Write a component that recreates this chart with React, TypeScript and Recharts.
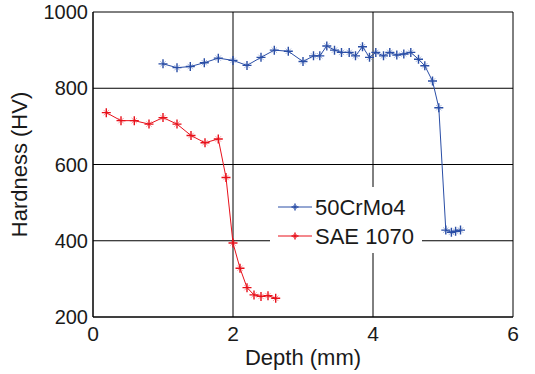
import React from 'react';
import {
    LineChart,
    Line,
    XAxis,
    YAxis,
    CartesianGrid,
    Legend,
} from 'recharts';

// 50CrMo4 profile
const crmoDepth = [1.0, 1.2, 1.39, 1.59, 1.79, 2.0, 2.2, 2.4, 2.59, 2.79, 3.0, 3.15, 3.24, 3.34, 3.45, 3.55, 3.66, 3.75, 3.85, 3.95, 4.04, 4.15, 4.24, 4.34, 4.44, 4.54, 4.65, 4.74, 4.85, 4.94, 5.04, 5.12, 5.18, 5.25];
const crmoHardness = [864, 854, 857, 867, 879, 873, 860, 881, 900, 897, 870, 885, 885, 911, 900, 894, 894, 885, 909, 881, 894, 885, 894, 887, 890, 894, 876, 859, 819, 749, 428, 422, 425, 428];

// SAE 1070 profile
const saeDepth = [0.19, 0.4, 0.59, 0.8, 1.0, 1.2, 1.4, 1.6, 1.79, 1.9, 2.0, 2.1, 2.2, 2.3, 2.4, 2.5, 2.61];
const saeHardness = [736, 715, 715, 706, 723, 706, 676, 657, 667, 566, 394, 328, 277, 258, 254, 256, 249];

const xTicks = [0, 2, 4, 6];
const yTicks = [200, 400, 600, 800, 1000];

const BLUE = '#2a4ea6';
const RED = '#e8111b';
const FONT = '"Liberation Sans", Arial, sans-serif';

const crmoData = crmoDepth.map((d, i) => ({ depth: d, hv: crmoHardness[i] }));
const saeData = saeDepth.map((d, i) => ({ depth: d, hv: saeHardness[i] }));

// matlab-ish '*' marker
function Star({ cx, cy, color, r = 4.5 }: { cx: number; cy: number; color: string; r?: number }) {
    const d = r * 0.6;
    return (
        <g stroke={color} fill="none">
            <path d={`M${cx - r},${cy}H${cx + r}M${cx},${cy - r}V${cy + r}`} strokeWidth={1.4} />
            <path d={`M${cx - d},${cy - d}L${cx + d},${cy + d}M${cx - d},${cy + d}L${cx + d},${cy - d}`} strokeWidth={0.7} strokeOpacity={0.6} />
        </g>
    );
}

const dotFor = (color: string) => (props: any) =>
    <Star key={`${color}-${props.index}`} cx={props.cx} cy={props.cy} color={color} />;

const legendItems = [
    { name: '50CrMo4', color: BLUE },
    { name: 'SAE 1070', color: RED },
];

function LegendBox() {
    return (
        <svg width={152} height={66} style={{ display: 'block', background: '#fff' }}>
            {legendItems.map((it, i) => {
                const y = 20 + i * 29;
                return (
                    <g key={it.name}>
                        <line x1={8} x2={42} y1={y} y2={y} stroke={it.color} strokeWidth={1} />
                        <Star cx={25} cy={y} color={it.color} r={3.5} />
                        <text x={45} y={y + 8} fontSize={22} fill="#1a1a1a" fontFamily={FONT}>{it.name}</text>
                    </g>
                );
            })}
        </svg>
    );
}

export default function App() {
    return (
        <div style={{ position: 'absolute', left: 0, top: 0, background: '#fff' }}>
            <LineChart
                width={535}
                height={374}
                margin={{ top: 12, right: 22, bottom: 0, left: 0 }}
                style={{ fontFamily: FONT }}
            >
                <CartesianGrid stroke="#000" strokeWidth={1} />
                <XAxis
                    type="number"
                    dataKey="depth"
                    domain={[0, 6]}
                    ticks={xTicks}
                    height={57}
                    axisLine={{ stroke: '#000' }}
                    tickLine={false}
                    tickSize={0}
                    tickMargin={0}
                    allowDuplicatedCategory={false}
                    tick={(p: any) => (
                        <text x={p.x} y={p.y + 24} textAnchor="middle" fontSize={21} fill="#1a1a1a" fontFamily={FONT}>
                            {p.payload.value}
                        </text>
                    )}
                    label={{
                        content: ({ viewBox }: any) => (
                            <text x={viewBox.x + viewBox.width / 2} y={viewBox.y + 48} textAnchor="middle" fontSize={22} fill="#1a1a1a" fontFamily={FONT}>
                                Depth (mm)
                            </text>
                        ),
                    }}
                />
                <YAxis
                    type="number"
                    dataKey="hv"
                    domain={[200, 1000]}
                    ticks={yTicks}
                    width={93}
                    axisLine={{ stroke: '#000' }}
                    tickLine={false}
                    tickSize={0}
                    tickMargin={0}
                    tick={(p: any) => (
                        <text x={p.x - 5} y={p.y + 7} textAnchor="end" fontSize={20} fill="#1a1a1a" fontFamily={FONT}>
                            {p.payload.value}
                        </text>
                    )}
                    label={{
                        content: ({ viewBox }: any) => {
                            const cx = viewBox.x + 19;
                            const cy = viewBox.y + viewBox.height / 2;
                            return (
                                <text x={cx} y={cy} transform={`rotate(-90 ${cx} ${cy})`} dy={8} textAnchor="middle" fontSize={22} fill="#1a1a1a" fontFamily={FONT}>
                                    Hardness (HV)
                                </text>
                            );
                        },
                    }}
                />
                <Legend
                    layout="vertical"
                    align="center"
                    verticalAlign="middle"
                    wrapperStyle={{ left: 270, top: 187, width: 152, height: 66 }}
                    content={() => <LegendBox />}
                />
                <Line
                    data={crmoData}
                    dataKey="hv"
                    name="50CrMo4"
                    type="linear"
                    stroke={BLUE}
                    strokeWidth={1}
                    dot={dotFor(BLUE)}
                    activeDot={false}
                    isAnimationActive={false}
                />
                <Line
                    data={saeData}
                    dataKey="hv"
                    name="SAE 1070"
                    type="linear"
                    stroke={RED}
                    strokeWidth={1}
                    dot={dotFor(RED)}
                    activeDot={false}
                    isAnimationActive={false}
                />
            </LineChart>
        </div>
    );
}
